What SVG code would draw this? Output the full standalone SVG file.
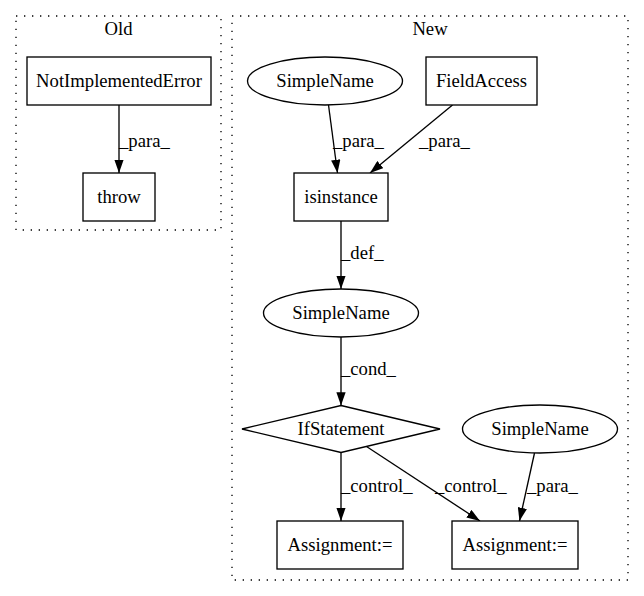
<svg xmlns="http://www.w3.org/2000/svg" width="644" height="596" viewBox="0 0 644 596">
<style>
text{font-family:"Liberation Serif","Times New Roman",serif;font-size:18.67px;fill:#000}
.c{text-anchor:middle}
.cl{fill:none;stroke:#000;stroke-width:1.33;stroke-dasharray:1.33,6.67}
.n{fill:#fff;stroke:#000;stroke-width:1.33}
.e{fill:none;stroke:#000;stroke-width:1.33;marker-end:url(#ah)}
</style>
<defs>
<marker id="ah" viewBox="0 0 13.3 9.3" refX="13.3" refY="4.65" markerWidth="13.3" markerHeight="9.3" markerUnits="userSpaceOnUse" orient="auto">
<path d="M0,0 L13.3,4.65 L0,9.3 z" fill="#000"/>
</marker>
</defs>
<rect width="644" height="596" fill="#fff"/>
<g id="cluster_old">
<rect class="cl" x="16" y="16" width="205" height="214"/>
<text class="c" x="118.5" y="35">Old</text>
</g>
<g id="cluster_new">
<rect class="cl" x="232" y="16" width="396" height="564"/>
<text class="c" x="430" y="35">New</text>
</g>
<g id="connectors">
<path class="e" d="M119,105 L119,173"/>
<text x="119" y="147">_para_</text>
<path class="e" d="M328.5,105 L337.5,173"/>
<text x="333" y="147">_para_</text>
<path class="e" d="M452.5,105 L370,173"/>
<text x="419" y="147">_para_</text>
<path class="e" d="M341,221 L341,289"/>
<text x="341" y="259">_def_</text>
<path class="e" d="M341,337 L341,405.5"/>
<text x="341" y="375">_cond_</text>
<path class="e" d="M341,453 L341,521"/>
<text x="341" y="492">_control_</text>
<path class="e" d="M366.5,446.5 L480,521"/>
<text x="435" y="492">_control_</text>
<path class="e" d="M534.5,453 L519.5,521"/>
<text x="527" y="492">_para_</text>
</g>
<g id="n_notimpl">
<rect class="n" x="27" y="57" width="184" height="48"/>
<text class="c" x="119" y="86.5">NotImplementedError</text>
</g>
<g id="n_throw">
<rect class="n" x="83" y="173" width="72" height="48"/>
<text class="c" x="119" y="202.5">throw</text>
</g>
<g id="n_simplename1">
<ellipse class="n" cx="325" cy="81" rx="77.5" ry="24"/>
<text class="c" x="325" y="86.5">SimpleName</text>
</g>
<g id="n_fieldaccess">
<rect class="n" x="426" y="57" width="111" height="48"/>
<text class="c" x="481.5" y="86.5">FieldAccess</text>
</g>
<g id="n_isinstance">
<rect class="n" x="294" y="173" width="94" height="48"/>
<text class="c" x="341" y="202.5">isinstance</text>
</g>
<g id="n_simplename2">
<ellipse class="n" cx="341" cy="313" rx="77.5" ry="24"/>
<text class="c" x="341" y="318.5">SimpleName</text>
</g>
<g id="n_ifstatement">
<polygon class="n" points="341,405.5 440,429 341,452.5 242,429"/>
<text class="c" x="341" y="434.5">IfStatement</text>
</g>
<g id="n_simplename3">
<ellipse class="n" cx="540" cy="429" rx="77.5" ry="24"/>
<text class="c" x="540" y="434.5">SimpleName</text>
</g>
<g id="n_assign1">
<rect class="n" x="277" y="521" width="126" height="48"/>
<text class="c" x="340" y="550.5">Assignment:=</text>
</g>
<g id="n_assign2">
<rect class="n" x="452" y="521" width="126" height="48"/>
<text class="c" x="515" y="550.5">Assignment:=</text>
</g>
</svg>
